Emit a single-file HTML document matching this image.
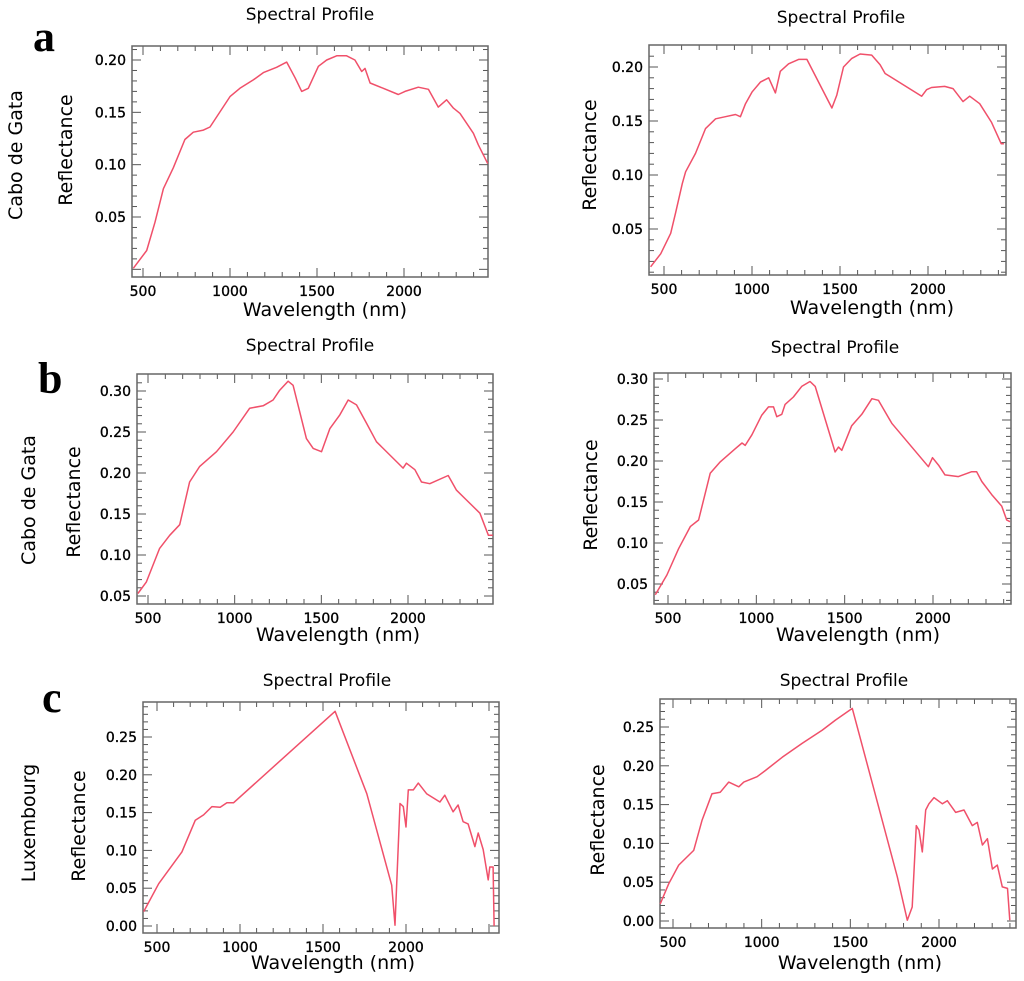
<!DOCTYPE html>
<html><head><meta charset="utf-8"><style>
html,body{margin:0;padding:0;background:#fff;}
svg{display:block;font-family:"DejaVu Sans","Liberation Sans",sans-serif;}
</style></head><body>
<svg id="fig" width="1024" height="981" viewBox="0 0 1024 981" xmlns="http://www.w3.org/2000/svg">
<text x="33" y="51" font-family="Liberation Serif,serif" font-weight="bold" font-size="44">a</text>
<text x="38" y="393" font-family="Liberation Serif,serif" font-weight="bold" font-size="44">b</text>
<text x="42" y="712" font-family="Liberation Serif,serif" font-weight="bold" font-size="44">c</text>
<text transform="translate(22,155) rotate(-90)" text-anchor="middle" font-size="19">Cabo de Gata</text>
<text transform="translate(35,500) rotate(-90)" text-anchor="middle" font-size="19">Cabo de Gata</text>
<text transform="translate(35,823) rotate(-90)" text-anchor="middle" font-size="19">Luxembourg</text>
</svg>
<script>
const wlA1=[444,521,569,617,674,741,789,847,885,1000,1057,1134,1192,1268,1326,1374,1412,1450,1508,1556,1613,1670,1718,1757,1776,1805,1881,1967,2006,2082,2140,2197,2245,2284,2322,2399,2427,2481];
const rA1=[0.001,0.018,0.045,0.077,0.097,0.124,0.131,0.133,0.136,0.165,0.173,0.181,0.188,0.193,0.198,0.183,0.170,0.173,0.194,0.200,0.204,0.204,0.200,0.189,0.192,0.178,0.173,0.167,0.170,0.174,0.172,0.155,0.162,0.154,0.149,0.130,0.119,0.101];
const wlA2=[424,481,538,566,604,623,679,736,793,849,906,934,963,1001,1048,1095,1133,1161,1208,1265,1312,1454,1482,1520,1567,1614,1680,1728,1756,1964,1992,2020,2095,2142,2199,2237,2294,2360,2416,2431];
const rA2=[0.015,0.027,0.046,0.065,0.092,0.103,0.120,0.143,0.152,0.154,0.156,0.154,0.166,0.177,0.186,0.190,0.176,0.196,0.203,0.207,0.207,0.162,0.174,0.200,0.208,0.212,0.211,0.202,0.194,0.173,0.179,0.181,0.182,0.180,0.168,0.173,0.166,0.149,0.129,0.129];
const wlB1=[442,490,567,625,683,740,798,895,991,1087,1164,1222,1260,1308,1337,1414,1453,1501,1549,1607,1655,1703,1760,1818,1972,1991,2040,2078,2126,2232,2280,2338,2415,2464,2489];
const rB1=[0.053,0.067,0.108,0.124,0.137,0.189,0.208,0.226,0.250,0.279,0.282,0.289,0.301,0.312,0.307,0.242,0.230,0.226,0.254,0.271,0.289,0.283,0.261,0.238,0.206,0.212,0.204,0.189,0.187,0.197,0.179,0.167,0.151,0.124,0.124];
const wlB2=[428,494,560,626,673,739,796,881,919,937,975,1031,1069,1097,1116,1144,1163,1210,1257,1304,1333,1446,1465,1484,1540,1597,1654,1691,1767,1974,1997,2031,2068,2144,2219,2247,2276,2332,2389,2417,2436];
const rB2=[0.037,0.061,0.093,0.120,0.128,0.185,0.199,0.215,0.222,0.219,0.232,0.256,0.266,0.266,0.254,0.257,0.269,0.278,0.291,0.297,0.291,0.211,0.217,0.213,0.243,0.257,0.276,0.274,0.246,0.193,0.204,0.195,0.183,0.181,0.187,0.187,0.175,0.159,0.145,0.128,0.126];
const wlC1=[420,510,650,731,781,831,881,921,961,1573,1764,1914,1934,1964,1984,2000,2014,2044,2074,2124,2204,2234,2284,2314,2344,2374,2415,2435,2465,2495,2505,2525,2531];
const rC1=[0.019,0.056,0.098,0.140,0.147,0.158,0.157,0.163,0.163,0.284,0.175,0.054,0.001,0.162,0.158,0.131,0.180,0.180,0.189,0.175,0.164,0.173,0.151,0.160,0.138,0.135,0.105,0.123,0.101,0.061,0.078,0.078,0.000];
const wlC2=[428,476,532,617,664,720,767,814,871,899,974,1021,1116,1229,1342,1417,1511,1765,1821,1849,1872,1887,1906,1925,1943,1972,2019,2047,2094,2141,2188,2216,2245,2273,2301,2329,2357,2386,2399];
const rC2=[0.022,0.048,0.072,0.091,0.130,0.164,0.166,0.179,0.173,0.179,0.186,0.194,0.211,0.229,0.246,0.259,0.274,0.057,0.001,0.018,0.123,0.117,0.089,0.143,0.151,0.159,0.151,0.155,0.140,0.143,0.123,0.127,0.098,0.106,0.067,0.072,0.044,0.042,0.001];
const xTickLabels=["500","1000","1500","2000"];
const yTicksA=["0.05","0.10","0.15","0.20"];
const yTicksB=["0.05","0.10","0.15","0.20","0.25","0.30"];
const yTicksC=["0.00","0.05","0.10","0.15","0.20","0.25"];

const NS="http://www.w3.org/2000/svg";
const svg=document.getElementById('fig');
function mk(tag,attrs,parent){const e=document.createElementNS(NS,tag);for(const k in attrs)e.setAttribute(k,attrs[k]);(parent||svg).appendChild(e);return e;}

function panel(id,box,xc,yc,wl,r,yTicks,title,titlePos,xlPos,ylPos){
  const g=mk('g',{});
  
  
  const [x0,y0,x1,y1]=box;
  const sx=v=>xc[0]+(v-500)*(xc[1]-xc[0])/1500;
  const sy=v=>yc[1]+(v-yc[0])*(yc[3]-yc[1])/(yc[2]-yc[0]);
  const t=mk('text',{x:titlePos[0],y:titlePos[1],'text-anchor':'middle','font-size':17},g);
  t.textContent=title;
  
  
  const xl=mk('text',{x:xlPos[0],y:xlPos[1],'text-anchor':'middle','font-size':19},g);
  xl.textContent='Wavelength (nm)';
  
  
  const yl=mk('text',{transform:`translate(${ylPos[0]},${ylPos[1]}) rotate(-90)`,'text-anchor':'middle','font-size':19},g);
  yl.textContent='Reflectance';
  
  
  for(let w=100;w<=2600;w+=100){const px=sx(w);if(px<x0+1||px>x1-1)continue;const L=(w%500===0)?9:5;
    mk('line',{x1:px,y1:y1,x2:px,y2:y1-L,stroke:'#555','stroke-width':1},g);
    mk('line',{x1:px,y1:y0,x2:px,y2:y0+L,stroke:'#555','stroke-width':1},g);}
  xTickLabels.forEach(s=>{const px=sx(+s);const tl=mk('text',{x:px,y:y1+19,'text-anchor':'middle','font-size':14,stroke:'#000','stroke-width':0.35},g);tl.textContent=s;
    
    });
  for(let k=-5;k<=40;k++){const v=k/100;const py=sy(v);if(py<y0+1||py>y1-1)continue;const L=(k%5===0)?9:5;
    mk('line',{x1:x0,y1:py,x2:x0+L,y2:py,stroke:'#555','stroke-width':1},g);
    mk('line',{x1:x1,y1:py,x2:x1-L,y2:py,stroke:'#555','stroke-width':1},g);}
  yTicks.forEach(s=>{const py=sy(+s);const tl=mk('text',{x:x0-6,y:py+5,'text-anchor':'end','font-size':14,stroke:'#000','stroke-width':0.35},g);tl.textContent=s;
    
    });
  const fr=mk('rect',{x:x0,y:y0,width:x1-x0,height:y1-y0,fill:'none',stroke:'#666','stroke-width':1.5},g);
  
  
  const pts=wl.map((w,i)=>sx(w).toFixed(1)+','+sy(r[i]).toFixed(1)).join(' ');
  const pl=mk('polyline',{points:pts,fill:'none',stroke:'#f0506a','stroke-width':1.5,'stroke-linejoin':'round'},g);
  
  
}
panel('panel-a-left',[132,46,488,277],[143,404],[0.20,60,0.05,217],wlA1,rA1,yTicksA,'Spectral Profile',[310,20],[325,316],[72,150]);
panel('panel-a-right',[649,45,1006,275],[664,928],[0.20,67,0.05,229],wlA2,rA2,yTicksA,'Spectral Profile',[841,23],[872,314],[596,155]);
panel('panel-b-left',[137,374,493,604],[148,408],[0.30,391,0.05,596],wlB1,rB1,yTicksB,'Spectral Profile',[310,351],[338,641],[80,502]);
panel('panel-b-right',[654,373,1011,604],[668,933],[0.30,379,0.05,584],wlB2,rB2,yTicksB,'Spectral Profile',[835,353],[858,641],[597,495]);
panel('panel-c-left',[143,702,499,933],[157,406],[0.25,737,0.00,926],wlC1,rC1,yTicksC,'Spectral Profile',[327,686],[333,969],[85,826]);
panel('panel-c-right',[660,699,1016,928],[673,939],[0.25,727,0.00,921],wlC2,rC2,yTicksC,'Spectral Profile',[844,686],[860,969],[604,820]);
</script>
</body></html>
